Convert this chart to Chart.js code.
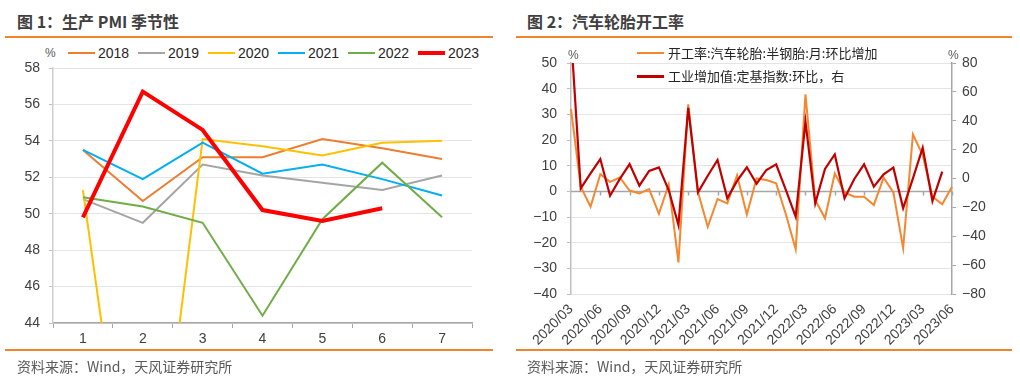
<!DOCTYPE html>
<html>
<head>
<meta charset="utf-8">
<script src="https://cdn.jsdelivr.net/npm/chart.js@4.4.0/dist/chart.umd.min.js"></script>
<style>
  body { margin: 0; background: #fff; width: 1020px; height: 385px; position: relative; overflow: hidden;
         font-family: "Liberation Sans", Arial, "Noto Sans CJK SC", sans-serif; }
  .title { position: absolute; top: 9px; font-family: "Noto Sans CJK SC", sans-serif; font-weight: bold;
           font-size: 16px; line-height: 24px; color: #404040; white-space: nowrap; }
  .rule { position: absolute; height: 1.5px; background: #F0852D; }
  .src { position: absolute; top: 356px; font-family: "Noto Sans CJK SC", sans-serif; font-size: 14px;
         line-height: 20px; color: #595959; white-space: nowrap; }
  .unit { position: absolute; font-size: 12px; color: #595959; line-height: 14px; }
  .lg { position: absolute; height: 18px; white-space: nowrap; }
  .lg i { position: absolute; left: 0; width: 27px; }
  .lg span { position: absolute; top: 0; line-height: 18px; color: #262626; }
  .lg1 span { left: 30px; font-size: 14px; }
  .lg2 span { left: 31px; font-size: 13px; font-family: "Noto Sans CJK SC", sans-serif; }
  canvas { position: absolute; }
</style>
</head>
<body>
  <div class="title" style="left:17px">图 1：生产 PMI 季节性</div>
  <div class="rule" style="left:5px;width:488px;top:36px"></div>
  <div class="unit" style="left:45px;top:46px">%</div>
  <div id="legend1"></div>
  <canvas id="c1" width="500" height="290" style="left:0;top:60px"></canvas>
  <div class="rule" style="left:5px;width:488px;top:349px"></div>
  <div class="src" style="left:17px">资料来源：Wind，天风证券研究所</div>

  <div class="title" style="left:527px">图 2：汽车轮胎开工率</div>
  <div class="rule" style="left:516px;width:496px;top:36px"></div>
  <canvas id="c2" width="500" height="295" style="left:510px;top:55px"></canvas>
  <div class="unit" style="left:568px;top:48px">%</div>
  <div class="unit" style="left:948px;top:48px">%</div>
  <div class="lg lg2" style="left:637px;top:44px"><i style="top:8px;height:2px;background:#F4872F"></i><span>开工率:汽车轮胎:半钢胎:月:环比增加</span></div>
  <div class="lg lg2" style="left:637px;top:67px"><i style="top:8px;height:2.5px;background:#C00000"></i><span>工业增加值:定基指数:环比，右</span></div>
  <div class="rule" style="left:516px;width:496px;top:349px"></div>
  <div class="src" style="left:527px">资料来源：Wind，天风证券研究所</div>

<script>
// ---- 图1 data ----
const pmiMonths = ['1', '2', '3', '4', '5', '6', '7'];
const pmi2018 = [53.5, 50.7, 53.1, 53.1, 54.1, 53.6, 53.0];
const pmi2019 = [50.8, 49.5, 52.7, 52.1, 51.7, 51.3, 52.1];
const pmi2020 = [51.3, 27.8, 54.1, 53.7, 53.2, 53.9, 54.0];
const pmi2021 = [53.5, 51.9, 53.9, 52.2, 52.7, 51.9, 51.0];
const pmi2022 = [50.9, 50.4, 49.5, 44.4, 49.7, 52.8, 49.8];
const pmi2023 = [49.8, 56.7, 54.6, 50.2, 49.6, 50.3];

// ---- 图2 data ----
const tireMonths = [
  '2020/03', '2020/04', '2020/05', '2020/06', '2020/07', '2020/08', '2020/09', '2020/10', '2020/11', '2020/12',
  '2021/01', '2021/02', '2021/03', '2021/04', '2021/05', '2021/06', '2021/07', '2021/08', '2021/09', '2021/10',
  '2021/11', '2021/12', '2022/01', '2022/02', '2022/03', '2022/04', '2022/05', '2022/06', '2022/07', '2022/08',
  '2022/09', '2022/10', '2022/11', '2022/12', '2023/01', '2023/02', '2023/03', '2023/04', '2023/05', '2023/06'
];
const tireRateChg = [
  32.0, 1.8, -6.0, 6.7, 3.7, 5.4, 0.3, -0.8, 0.9, -8.8,
  2.7, -27.7, 33.9, -0.4, -13.8, -3.0, -4.7, 6.3, -9.0, 5.0,
  4.4, 3.1, -9.0, -22.6, 37.8, -3.4, -10.5, 7.0, -0.4, -2.1,
  -2.1, -5.3, 5.3, -0.4, -22.2, 22.2, 14.1, -2.1, -5.0, 1.8
];
const ivaMom = [
  100.0, -6.8, 3.6, 13.5, -11.9, -0.3, 10.0, -5.0, 5.2, 7.7,
  -8.0, -32.2, 49.0, -9.6, 1.9, 12.8, -13.7, -1.7, 7.8, -3.6,
  5.9, 9.8, -8.0, -26.4, 39.4, -17.2, 6.6, 16.7, -13.7, -0.3,
  9.8, -5.7, 2.9, 7.5, -20.6, 0.1, 21.3, -15.6, 4.7, null
];

Chart.defaults.font.family = '"Liberation Sans", Arial, sans-serif';
Chart.defaults.color = '#404040';

// keep the plot area exactly where the layout padding says
const noPadY = w => s => { s.width = w; s.paddingTop = 0; s.paddingBottom = 0; };
const noPadX = h => s => { s.height = h; s.paddingLeft = 0; s.paddingRight = 0; };

const series1 = [
  { label: '2018', data: pmi2018, color: '#ED7D31', w: 2 },
  { label: '2019', data: pmi2019, color: '#A5A5A5', w: 2 },
  { label: '2020', data: pmi2020, color: '#FFC000', w: 2 },
  { label: '2021', data: pmi2021, color: '#00B0F0', w: 2 },
  { label: '2022', data: pmi2022, color: '#70AD47', w: 2 },
  { label: '2023', data: pmi2023, color: '#FF0000', w: 4 }
];

// html legend for chart 1
const lg1 = document.getElementById('legend1');
series1.forEach((s, i) => {
  const d = document.createElement('div');
  d.className = 'lg lg1';
  d.style.left = (68 + i * 70) + 'px';
  d.style.top = '44px';
  d.innerHTML = '<i style="top:' + (9 - s.w / 2) + 'px;height:' + s.w + 'px;background:' + s.color + '"></i><span>' + s.label + '</span>';
  lg1.appendChild(d);
});

new Chart(document.getElementById('c1'), {
  type: 'line',
  data: {
    labels: pmiMonths,
    datasets: series1.map((s, i) => ({
      label: s.label,
      data: s.data,
      borderColor: s.color,
      borderWidth: s.w,
      order: series1.length - i,
      pointRadius: 0,
      tension: 0
    }))
  },
  options: {
    responsive: false,
    animation: false,
    layout: { padding: { top: 8, right: 28, left: 0, bottom: 0 } },
    plugins: { legend: { display: false }, tooltip: { enabled: false } },
    scales: {
      x: {
        offset: true,
        grid: { offset: true, drawOnChartArea: false, tickLength: 5, color: '#a6a6a6' },
        border: { color: '#a6a6a6', width: 1.5 },
        ticks: { font: { size: 14 }, padding: 3, color: '#404040' },
        afterFit: noPadX(27)
      },
      y: {
        min: 44, max: 58,
        ticks: { stepSize: 2, font: { size: 14 }, padding: 9, color: '#404040' },
        grid: { color: '#e4e4e4', tickLength: 4, tickColor: '#bfbfbf' },
        border: { color: '#cfcfcf', width: 1.5 },
        afterFit: noPadY(53)
      }
    }
  }
});

const minus = v => String(v).replace('-', '\u2212');

// zero line with quarterly tick marks
const zeroLine = {
  id: 'zeroLine',
  beforeDatasetsDraw(chart) {
    const { ctx, chartArea, scales } = chart;
    const y0 = Math.round(scales.y.getPixelForValue(0)) + 0.5;
    ctx.save();
    ctx.strokeStyle = '#a6a6a6';
    ctx.lineWidth = 1.5;
    ctx.beginPath();
    ctx.moveTo(chartArea.left, y0);
    ctx.lineTo(chartArea.right, y0);
    for (let i = 3; i < tireMonths.length; i += 3) {
      const x = Math.round(scales.x.getPixelForValue(i)) + 0.5;
      ctx.moveTo(x, y0);
      ctx.lineTo(x, y0 + 4);
    }
    ctx.stroke();
    ctx.restore();
  }
};

new Chart(document.getElementById('c2'), {
  type: 'line',
  data: {
    labels: tireMonths,
    datasets: [
      { label: '开工率:汽车轮胎:半钢胎:月:环比增加', data: tireRateChg, borderColor: '#F4872F',
        borderWidth: 2, yAxisID: 'y', order: 2, pointRadius: 0, tension: 0 },
      { label: '工业增加值:定基指数:环比，右', data: ivaMom, borderColor: '#C00000',
        borderWidth: 2.2, yAxisID: 'y1', order: 1, pointRadius: 0, tension: 0 }
    ]
  },
  options: {
    responsive: false,
    animation: false,
    layout: { padding: { top: 8, right: 0, left: 0, bottom: 0 } },
    plugins: { legend: { display: false }, tooltip: { enabled: false } },
    scales: {
      x: {
        grid: { display: false, drawTicks: false },
        border: { display: false },
        ticks: {
          autoSkip: false, minRotation: 45, maxRotation: 45, padding: 7,
          font: { size: 14 }, color: '#404040',
          callback: (v, i) => (i % 3 === 0 ? tireMonths[i] : null)
        },
        afterFit: noPadX(56)
      },
      y: {
        position: 'left', min: -40, max: 50,
        ticks: { stepSize: 10, font: { size: 14 }, padding: 10, color: '#404040', callback: v => minus(v) },
        grid: { color: '#e4e4e4', tickLength: 4, tickColor: '#bfbfbf' },
        border: { color: '#bfbfbf', width: 1.5 },
        afterFit: noPadY(61)
      },
      y1: {
        position: 'right', min: -80, max: 80,
        ticks: { stepSize: 20, font: { size: 14 }, padding: 6, color: '#404040', callback: v => minus(v) },
        grid: { drawOnChartArea: false, tickLength: 4, tickColor: '#a6a6a6' },
        border: { color: '#a6a6a6', width: 1.5 },
        afterFit: noPadY(58)
      }
    }
  },
  plugins: [zeroLine]
});
</script>
</body>
</html>
